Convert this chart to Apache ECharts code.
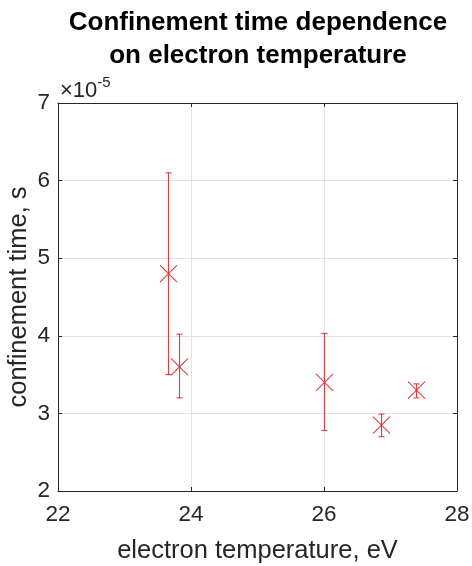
<!DOCTYPE html>
<html>
<head>
<meta charset="utf-8">
<script src="https://cdn.jsdelivr.net/npm/echarts@6/dist/echarts.min.js"></script>
<style>
  html, body { margin: 0; padding: 0; background: #fff; }
  #chart { width: 472px; height: 566px; }
</style>
</head>
<body>
<div id="chart"></div>
<script>
// electron temperature, eV
const temperature = [23.66, 23.82, 26.0, 26.85, 27.38];
// confinement time, in units of 1e-5 s
const tau = [4.80, 3.60, 3.40, 2.85, 3.30];
const tauLow = [3.50, 3.20, 2.78, 2.70, 3.20];
const tauHigh = [6.10, 4.02, 4.03, 2.99, 3.38];

const xTicks = [22, 24, 26, 28];
const yTicks = [2, 3, 4, 5, 6, 7];

const red = '#e23b3f';
const axisColor = '#262626';
const font = 'Liberation Sans, Arial, sans-serif';

const points = temperature.map((t, i) => [t, tau[i], tauLow[i], tauHigh[i]]);

const chart = echarts.init(document.getElementById('chart'));

// error bar with caps + "x" marker
function renderErr(params, api) {
  const c = api.coord([api.value(0), api.value(1)]);
  const lo = api.coord([api.value(0), api.value(2)]);
  const hi = api.coord([api.value(0), api.value(3)]);
  const x = Math.round(c[0]) + 0.5;
  const cap = 3, m = 8.5;
  const st = { stroke: red, lineWidth: 1.1 };
  return {
    type: 'group',
    children: [
      { type: 'line', shape: { x1: x, y1: hi[1], x2: x, y2: lo[1] }, style: st },
      { type: 'line', shape: { x1: x - cap, y1: hi[1], x2: x + cap, y2: hi[1] }, style: st },
      { type: 'line', shape: { x1: x - cap, y1: lo[1], x2: x + cap, y2: lo[1] }, style: st },
      { type: 'line', shape: { x1: x - m, y1: c[1] - m, x2: x + m, y2: c[1] + m }, style: st },
      { type: 'line', shape: { x1: x - m, y1: c[1] + m, x2: x + m, y2: c[1] - m }, style: st }
    ]
  };
}

const tickInside = { show: true, inside: true, length: 4, lineStyle: { color: axisColor } };
const axisLine = { show: true, onZero: false, lineStyle: { color: axisColor, width: 1 } };

chart.setOption({
  animation: false,
  backgroundColor: '#fff',
  title: {
    text: 'Confinement time dependence\non electron temperature',
    left: 253,
    top: 1,
    textAlign: 'center',
    textStyle: { fontFamily: font, fontWeight: 'bold', fontSize: 26, color: '#000', lineHeight: 33 }
  },
  grid: { left: 58, right: 15, top: 103, bottom: 75, outerBoundsMode: 'none' },
  xAxis: [{
    type: 'value',
    min: xTicks[0], max: xTicks[xTicks.length - 1], interval: 2,
    name: 'electron temperature, eV',
    nameLocation: 'middle', nameGap: 47,
    nameTextStyle: { fontFamily: font, fontSize: 25.5, color: axisColor },
    axisLine: axisLine, axisTick: tickInside,
    axisLabel: { fontFamily: font, fontSize: 22.5, color: axisColor, margin: 12 },
    splitLine: { show: true, lineStyle: { color: '#e3e3e3' } }
  }, {
    type: 'value', position: 'top',
    min: xTicks[0], max: xTicks[xTicks.length - 1], interval: 2,
    axisLine: axisLine, axisTick: tickInside,
    axisLabel: { show: false }, splitLine: { show: false }
  }],
  yAxis: [{
    type: 'value',
    min: yTicks[0], max: yTicks[yTicks.length - 1], interval: 1,
    name: 'confinement time, s',
    nameLocation: 'middle', nameGap: 26, nameMoveOverlap: false,
    nameTextStyle: { fontFamily: font, fontSize: 25.5, color: axisColor },
    axisLine: axisLine, axisTick: tickInside,
    axisLabel: { fontFamily: font, fontSize: 22.5, color: axisColor, margin: 8 },
    splitLine: { show: true, lineStyle: { color: '#e3e3e3' } }
  }, {
    type: 'value', position: 'right',
    min: yTicks[0], max: yTicks[yTicks.length - 1], interval: 1,
    axisLine: axisLine, axisTick: tickInside,
    axisLabel: { show: false }, splitLine: { show: false }
  }],
  graphic: [{
    type: 'text',
    left: 60, top: 75,
    style: {
      text: '{a|×10}{b|-5}',
      rich: {
        a: { fontFamily: font, fontSize: 22, fill: axisColor, verticalAlign: 'bottom' },
        b: { fontFamily: font, fontSize: 15, fill: axisColor, verticalAlign: 'top', padding: [0, 0, 12, 0] }
      }
    }
  }],
  series: [{
    type: 'custom',
    renderItem: renderErr,
    data: points,
    encode: { x: 0, y: [1, 2, 3] },
    z: 10
  }]
});
</script>
</body>
</html>
